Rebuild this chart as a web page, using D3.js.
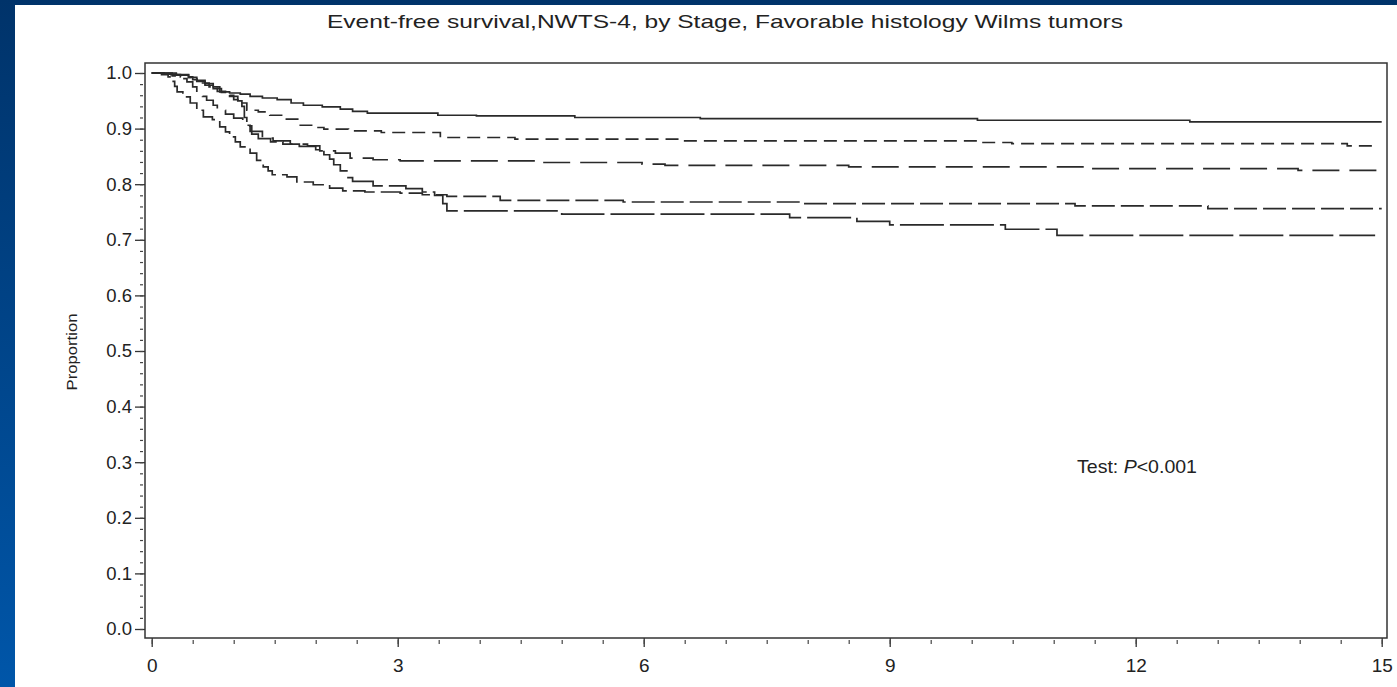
<!DOCTYPE html>
<html>
<head>
<meta charset="utf-8">
<script src="https://cdn.jsdelivr.net/npm/d3@7"></script>
<style>
  body { margin: 0; background: #fff; }
  svg { display: block; }
  text { font-family: "Liberation Sans", Arial, sans-serif; fill: #222; }
</style>
</head>
<body>
<div id="chart"></div>
<script>
// event-free survival by stage as [years, proportion]
var stage1 = [[0,1],[0.15,0.998],[0.3,0.996],[0.45,0.992],[0.55,0.987],[0.65,0.981],[0.75,0.975],[0.83,0.966],[0.95,0.964],[1.08,0.962],[1.2,0.958],[1.35,0.955],[1.53,0.952],[1.7,0.946],[1.85,0.942],[2.08,0.939],[2.3,0.935],[2.45,0.931],[2.63,0.928],[3.49,0.924],[3.96,0.923],[5.16,0.920],[6.69,0.918],[10.07,0.915],[12.66,0.912],[15,0.912]];
var stage2 = [[0,1],[0.2,0.997],[0.35,0.993],[0.5,0.988],[0.6,0.982],[0.7,0.975],[0.8,0.967],[0.9,0.96],[1.0,0.952],[1.05,0.946],[1.16,0.933],[1.3,0.930],[1.44,0.924],[1.6,0.917],[1.8,0.906],[1.95,0.902],[2.1,0.899],[2.4,0.896],[2.8,0.893],[3.52,0.884],[4.43,0.881],[6.5,0.878],[10.08,0.875],[10.49,0.873],[14.58,0.869],[14.92,0.869]];
var stage3 = [[0,1],[0.25,0.995],[0.35,0.99],[0.43,0.984],[0.5,0.975],[0.55,0.966],[0.62,0.958],[0.67,0.951],[0.75,0.942],[0.8,0.933],[0.9,0.926],[1.0,0.919],[1.11,0.906],[1.2,0.895],[1.35,0.883],[1.48,0.878],[1.69,0.872],[1.9,0.869],[2.05,0.860],[2.24,0.856],[2.42,0.847],[2.7,0.844],[3.03,0.842],[4.73,0.839],[5.98,0.836],[6.26,0.834],[8.5,0.831],[11.38,0.828],[13.98,0.825],[15,0.825]];
var stage4 = [[0,1],[0.12,0.997],[0.2,0.993],[0.25,0.985],[0.28,0.976],[0.31,0.966],[0.38,0.957],[0.47,0.946],[0.55,0.933],[0.63,0.921],[0.74,0.916],[0.83,0.903],[0.9,0.894],[0.95,0.885],[1.02,0.876],[1.08,0.867],[1.2,0.856],[1.28,0.843],[1.36,0.831],[1.42,0.824],[1.47,0.817],[1.65,0.813],[1.77,0.804],[1.97,0.799],[2.17,0.793],[2.33,0.788],[2.6,0.786],[3.03,0.784],[3.3,0.781],[3.6,0.778],[4.25,0.771],[5.75,0.768],[7.91,0.765],[11.26,0.761],[12.88,0.756],[15,0.756]];
var stage5 = [[0,1],[0.3,0.997],[0.45,0.992],[0.55,0.985],[0.65,0.978],[0.75,0.972],[0.85,0.965],[0.95,0.958],[1.05,0.95],[1.1,0.94],[1.13,0.92],[1.16,0.905],[1.22,0.89],[1.3,0.882],[1.45,0.876],[1.6,0.872],[1.8,0.868],[2.0,0.862],[2.1,0.853],[2.17,0.845],[2.22,0.835],[2.3,0.824],[2.38,0.812],[2.45,0.805],[2.7,0.797],[3.1,0.792],[3.3,0.786],[3.45,0.78],[3.55,0.765],[3.6,0.752],[5.0,0.746],[7.78,0.740],[8.6,0.733],[9.0,0.727],[10.41,0.719],[11.04,0.708],[14.92,0.708]];

var stageNames = ["I", "II", "III", "IV", "V"];
var stageDash = ["none", "13,7", "27,10", "23,6", "44,6"];
var yTicks = [0, 0.1, 0.2, 0.3, 0.4, 0.5, 0.6, 0.7, 0.8, 0.9, 1.0];
var xTicks = [0, 3, 6, 9, 12, 15];
var titleText = "Event-free survival,NWTS-4, by Stage, Favorable histology Wilms tumors";
var yLabel = "Proportion";

var W = 1397, H = 687;
var frame = {left: 145, top: 63, right: 1387, bottom: 638};

var svg = d3.select("#chart").append("svg")
  .attr("width", W)
  .attr("height", H);

// blue slide background
var grad = svg.append("defs").append("linearGradient")
  .attr("id", "bg")
  .attr("x1", 0).attr("y1", 0).attr("x2", 0).attr("y2", 1);
grad.append("stop").attr("offset", "0%").attr("stop-color", "#00336a");
grad.append("stop").attr("offset", "100%").attr("stop-color", "#0056a9");
svg.append("rect").attr("width", W).attr("height", H).attr("fill", "url(#bg)");
svg.append("rect").attr("x", 15).attr("y", 5).attr("width", W - 15).attr("height", H - 5).attr("fill", "#fff");

var x = d3.scaleLinear().domain([0, 15]).range([151.7, 1381.7]);
var y = d3.scaleLinear().domain([0, 1]).range([629, 73]);

svg.append("text")
  .attr("x", 327).attr("y", 28)
  .attr("font-size", 18.5)
  .attr("textLength", 796)
  .attr("lengthAdjust", "spacingAndGlyphs")
  .text(titleText);

// y axis: major and minor ticks
var yAxis = svg.append("g")
  .attr("transform", "translate(" + frame.left + ",0)")
  .call(d3.axisLeft(y).tickValues(yTicks).tickFormat(d3.format(".1f")).tickSize(10).tickPadding(3));
yAxis.select(".domain").remove();
yAxis.selectAll("line").attr("stroke", "#333").attr("stroke-width", 1.3);
yAxis.selectAll("text")
  .attr("font-size", 18.5)
  .attr("font-family", "'Liberation Sans', Arial, sans-serif")
  .attr("fill", "#222");

svg.append("g")
  .attr("transform", "translate(" + (frame.left - 2) + ",0)")
  .call(d3.axisLeft(y).tickValues(d3.range(0, 1.001, 0.02)).tickFormat("").tickSize(3))
  .call(function(g) { g.select(".domain").remove(); })
  .selectAll("line").attr("stroke", "#444").attr("stroke-width", 1.2);

// x axis
var xAxis = svg.append("g")
  .attr("transform", "translate(0," + frame.bottom + ")")
  .call(d3.axisBottom(x).tickValues(xTicks).tickFormat(d3.format("d")).tickSize(9).tickPadding(12));
xAxis.select(".domain").remove();
xAxis.selectAll("line").attr("stroke", "#333").attr("stroke-width", 1.3);
xAxis.selectAll("text")
  .attr("font-size", 19)
  .attr("font-family", "'Liberation Sans', Arial, sans-serif")
  .attr("fill", "#222");

svg.append("g")
  .attr("transform", "translate(0," + (frame.bottom + 2) + ")")
  .call(d3.axisBottom(x).tickValues(d3.range(0, 15.01, 0.5)).tickFormat("").tickSize(4))
  .call(function(g) { g.select(".domain").remove(); })
  .selectAll("line").attr("stroke", "#444").attr("stroke-width", 1.2);

svg.append("rect")
  .attr("x", frame.left).attr("y", frame.top)
  .attr("width", frame.right - frame.left)
  .attr("height", frame.bottom - frame.top)
  .attr("fill", "none")
  .attr("stroke", "#333")
  .attr("stroke-width", 1.5);

svg.append("text")
  .attr("transform", "translate(77,352) rotate(-90)")
  .attr("text-anchor", "middle")
  .attr("font-size", 15.5)
  .attr("textLength", 77)
  .attr("lengthAdjust", "spacingAndGlyphs")
  .text(yLabel);

// survival curves
var line = d3.line()
  .x(function(d) { return x(d[0]); })
  .y(function(d) { return y(d[1]); })
  .curve(d3.curveStepAfter);

var stages = [stage1, stage2, stage3, stage4, stage5];
svg.append("g").selectAll("path")
  .data(stages)
  .enter().append("path")
  .attr("class", function(d, i) { return "stage stage-" + stageNames[i]; })
  .attr("d", line)
  .attr("fill", "none")
  .attr("stroke", "#2a2a2a")
  .attr("stroke-width", 1.7)
  .attr("stroke-dasharray", function(d, i) { return stageDash[i]; });

var test = svg.append("text")
  .attr("x", 1077).attr("y", 473)
  .attr("font-size", 18.5)
  .attr("textLength", 120)
  .attr("lengthAdjust", "spacingAndGlyphs");
test.append("tspan").text("Test: ");
test.append("tspan").attr("font-style", "italic").text("P");
test.append("tspan").text("<0.001");
</script>
</body>
</html>
